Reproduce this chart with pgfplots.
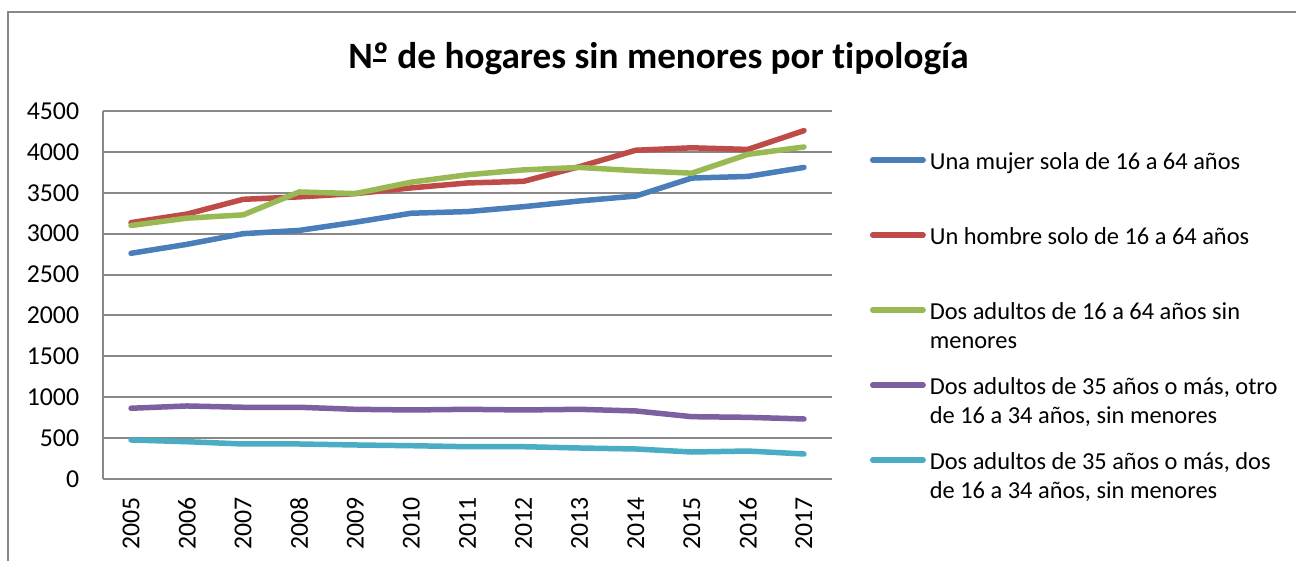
\documentclass[border=0pt]{standalone}
\usepackage{pgfplots}
\pgfplotsset{compat=1.18}
\usepackage{fontspec}
\setmainfont{Carlito}[Ligatures=NoCommon]
\definecolor{cblue}{HTML}{4A7EBB}
\definecolor{cred}{HTML}{BE4B48}
\definecolor{cgreen}{HTML}{98B954}
\definecolor{cpurple}{HTML}{7D60A0}
\definecolor{ccyan}{HTML}{4BACC6}
\definecolor{gridgray}{HTML}{888888}
\newcommand\LEone[1]{\begin{tabular}[t]{@{}l@{}}#1\end{tabular}}
\newcommand\LEtwo[2]{\begin{tabular}[t]{@{}l@{}}#1\\#2\end{tabular}}
\begin{document}
\begin{tikzpicture}
\useasboundingbox (0,0) rectangle (648pt,280.5pt);
\draw[gridgray, line width=1pt] (4pt,0) -- (4pt,274.5pt) -- (648pt,274.5pt);
\node[anchor=base, inner sep=0pt, font=\fontsize{18.6}{22}\selectfont\bfseries] at (329.25pt,246pt) {N\makebox[0pt][l]{\rule[0.2em]{0.34em}{0.06em}}º de hogares sin menores por tipología};
\begin{axis}[
  at={(51.5pt,41pt)}, anchor=south west,
  scale only axis, width=364.5pt, height=184pt,
  xmin=2004.5, xmax=2017.5, ymin=0, ymax=4500,
  xtick={2005,2006,2007,2008,2009,2010,2011,2012,2013,2014,2015,2016,2017},
  xticklabels={2005,2006,2007,2008,2009,2010,2011,2012,2013,2014,2015,2016,2017},
  ytick={0,500,1000,1500,2000,2500,3000,3500,4000,4500},
  axis x line*=bottom, axis y line*=left,
  axis line style={gridgray, line width=1pt, -},
  ymajorgrids, grid style={gridgray, line width=1pt},
  major tick length=0pt,
  tick label style={font=\fontsize{12.9}{14}\selectfont, inner sep=0pt},
  xticklabel style={rotate=90, anchor=east},
  yticklabel style={anchor=east},
  xticklabel shift=9pt, yticklabel shift=11.75pt,
  /pgf/number format/1000 sep={},
  /pgf/number format/assume math mode=true,
  legend image code/.code={\draw[#1, line cap=round] (1.4pt,4.8pt) -- (26.6pt,4.8pt);},
  legend cell align=left,
  legend style={at={(axis description cs:1.0521,0.9068)}, anchor=north west,
    draw=none, fill=none, inner sep=0pt, outer sep=0pt,
    font=\fontsize{12.2}{14.6}\selectfont,
    cells={anchor=base west, inner sep=0pt},
    row sep={37.5pt,between origins}, column sep=0pt},
  every axis plot/.append style={line width=2.75pt, line join=round, line cap=round},
]
\addplot[cblue] coordinates {(2005,2760)(2006,2870)(2007,3000)(2008,3040)(2009,3140)(2010,3250)(2011,3270)(2012,3330)(2013,3400)(2014,3460)(2015,3680)(2016,3700)(2017,3810)};
\addlegendentry{\LEone{Una mujer sola de 16 a 64 años}}
\addplot[cred] coordinates {(2005,3135)(2006,3240)(2007,3420)(2008,3450)(2009,3490)(2010,3560)(2011,3620)(2012,3640)(2013,3820)(2014,4020)(2015,4050)(2016,4030)(2017,4260)};
\addlegendentry{\LEone{Un hombre solo de 16 a 64 años}}
\addplot[cgreen] coordinates {(2005,3100)(2006,3190)(2007,3230)(2008,3510)(2009,3490)(2010,3630)(2011,3720)(2012,3780)(2013,3810)(2014,3770)(2015,3740)(2016,3970)(2017,4060)};
\addlegendentry{\LEtwo{Dos adultos de 16 a 64 años sin}{menores}}
\addplot[cpurple] coordinates {(2005,865)(2006,893)(2007,877)(2008,877)(2009,852)(2010,844)(2011,852)(2012,844)(2013,852)(2014,832)(2015,762)(2016,754)(2017,734)};
\addlegendentry{\LEtwo{Dos adultos de 35 años o más, otro}{de 16 a 34 años, sin menores}}
\addplot[ccyan] coordinates {(2005,477)(2006,456)(2007,428)(2008,428)(2009,416)(2010,407)(2011,395)(2012,395)(2013,379)(2014,367)(2015,330)(2016,342)(2017,306)};
\addlegendentry{\LEtwo{Dos adultos de 35 años o más, dos}{de 16 a 34 años, sin menores}}
\end{axis}
\end{tikzpicture}
\end{document}
